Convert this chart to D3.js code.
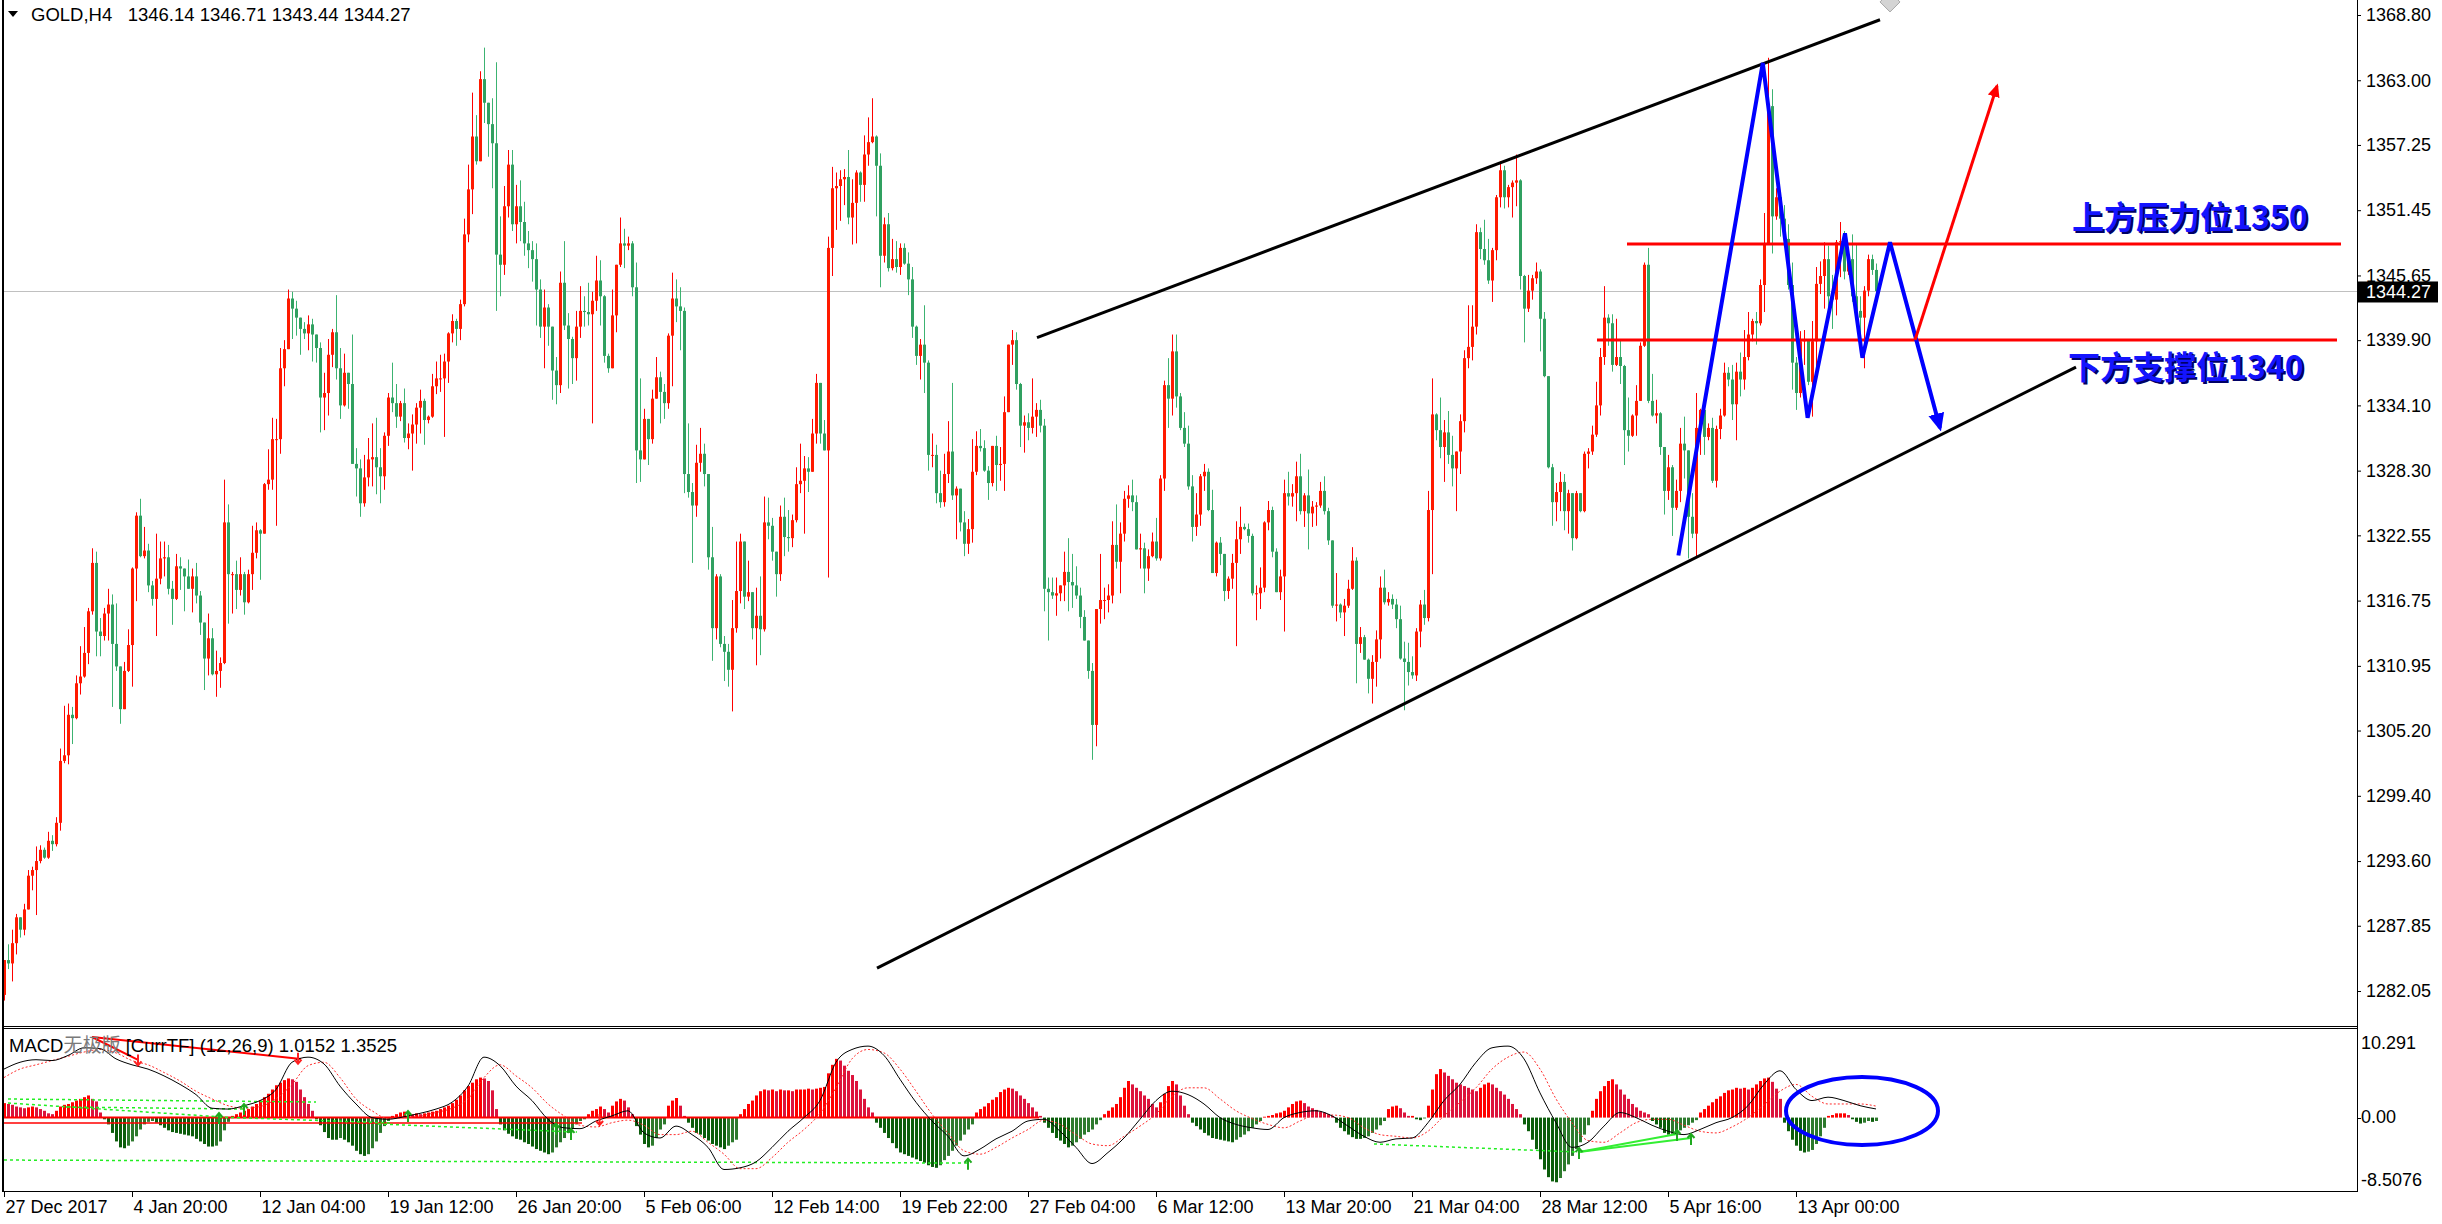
<!DOCTYPE html>
<html>
<head>
<meta charset="utf-8">
<script src="https://cdn.jsdelivr.net/npm/d3@7"></script>
<style>
  body { margin: 0; background: #fff; }
  svg { display: block; }
</style>
</head>
<body>
<svg id="chart"></svg>
<script>
// ---- GOLD H4 candles (open of each bar = previous close) ----
const firstOpen = 1281.7;
const closes = [
  1284.8,1284.5,1286.3,1288.6,1287.5,1289.3,1292.3,1292.8,1293.6,1294.6,
  1293.9,1295.4,1295.1,1297.0,1302.5,1303.0,1306.6,1306.3,1309.4,1310.0,
  1312.1,1315.8,1320.1,1314.0,1313.6,1315.6,1316.4,1312.9,1310.9,1307.1,
  1310.5,1312.8,1319.6,1324.3,1320.7,1321.2,1318.1,1316.9,1318.7,1320.5,
  1320.6,1317.8,1316.9,1319.8,1319.6,1318.9,1317.8,1318.9,1317.2,1314.8,
  1311.6,1313.4,1310.2,1310.5,1311.2,1323.7,1319.1,1319.1,1317.7,1319.1,
  1316.6,1319.1,1321.0,1323.0,1322.7,1327.1,1327.5,1331.1,1331.1,1337.4,
  1339.1,1343.6,1342.7,1341.9,1340.9,1340.5,1341.3,1340.4,1339.2,1334.8,
  1335.2,1338.6,1340.6,1337.4,1334.1,1337.0,1336.0,1328.9,1328.5,1325.4,
  1327.7,1329.3,1329.5,1328.6,1327.8,1331.4,1334.8,1334.3,1333.1,1334.3,
  1331.2,1331.6,1332.4,1333.9,1334.5,1332.8,1333.1,1335.8,1336.5,1336.5,
  1338.0,1340.5,1341.6,1340.9,1343.1,1349.3,1353.3,1358.0,1355.8,1363.1,
  1361.0,1359.1,1357.4,1347.5,1346.6,1351.8,1355.5,1350.2,1351.8,1350.4,
  1348.5,1347.9,1347.1,1344.4,1341.1,1342.8,1341.1,1337.2,1335.9,1345.0,
  1341.2,1340.0,1338.3,1341.1,1342.5,1342.4,1342.2,1343.4,1345.2,1343.8,
  1338.5,1337.4,1342.1,1346.6,1348.5,1348.3,1348.5,1344.6,1330.1,1329.3,
  1332.9,1331.1,1334.7,1336.6,1335.3,1334.3,1340.3,1343.6,1342.9,1342.5,
  1328.0,1326.4,1325.2,1329.0,1329.8,1328.0,1320.6,1314.3,1318.9,1312.9,
  1312.2,1310.6,1314.3,1317.6,1322.0,1317.1,1317.5,1314.3,1315.4,1314.2,
  1323.7,1323.4,1321.1,1319.1,1324.2,1322.4,1322.3,1323.9,1327.1,1327.4,
  1328.5,1328.2,1331.6,1336.1,1331.6,1330.1,1348.1,1353.4,1353.6,1354.2,
  1354.4,1350.8,1352.1,1354.8,1353.7,1356.4,1357.5,1358.0,1355.4,1347.4,
  1350.2,1346.3,1347.1,1346.4,1348.1,1346.7,1345.3,1341.1,1338.5,1339.5,
  1337.9,1329.7,1329.7,1326.3,1325.5,1328.0,1330.0,1326.1,1326.7,1323.7,
  1321.8,1323.1,1328.2,1330.5,1330.3,1328.3,1327.2,1330.5,1328.8,1328.9,
  1333.5,1339.5,1339.9,1336.0,1332.3,1332.6,1332.1,1333.1,1333.7,1332.3,
  1317.8,1317.5,1317.2,1317.4,1318.1,1319.3,1318.4,1318.1,1317.2,1315.3,
  1313.2,1310.5,1305.7,1316.0,1316.8,1316.8,1317.2,1321.7,1320.2,1322.7,
  1325.8,1326.1,1325.5,1321.3,1321.4,1319.6,1320.7,1322.0,1320.5,1327.6,
  1335.9,1334.7,1338.9,1334.9,1332.1,1330.7,1326.9,1323.3,1324.4,1327.8,
  1328.2,1324.8,1319.2,1321.9,1320.9,1317.6,1318.7,1320.1,1322.2,1323.3,
  1323.1,1322.5,1317.4,1317.4,1317.9,1323.7,1324.8,1321.1,1317.5,1318.9,
  1326.3,1326.0,1326.3,1327.8,1324.7,1326.1,1324.5,1325.1,1325.2,1326.5,
  1324.7,1322.1,1316.3,1316.4,1315.7,1316.3,1317.8,1320.3,1312.9,1313.5,
  1311.5,1309.8,1311.3,1313.3,1317.9,1316.6,1316.9,1316.4,1315.1,1311.6,
  1311.3,1310.4,1310.1,1314.0,1316.4,1315.2,1324.8,1333.3,1331.9,1330.4,
  1331.7,1329.7,1328.5,1330.0,1332.7,1338.3,1339.3,1341.1,1349.5,1348.0,
  1347.0,1345.2,1347.9,1352.6,1355.0,1352.6,1353.5,1353.9,1354.1,1345.6,
  1342.7,1344.3,1345.4,1346.0,1341.8,1336.7,1328.6,1325.5,1326.4,1327.3,
  1324.7,1326.3,1322.3,1326.3,1324.7,1329.8,1330.0,1331.5,1334.1,1338.4,
  1341.9,1341.4,1337.7,1338.4,1337.6,1331.9,1331.4,1333.2,1334.5,1339.4,
  1346.6,1334.5,1333.2,1333.4,1330.4,1326.5,1328.6,1325.0,1326.5,1330.7,
  1330.1,1324.2,1322.7,1332.1,1333.7,1331.3,1332.1,1327.4,1332.0,1333.2,
  1337.0,1336.4,1334.2,1337.1,1336.4,1338.4,1340.4,1341.6,1341.4,1344.8,
  1348.5,1360.7,1350.9,1352.6,1350.7,1348.9,1344.8,1337.9,1335.2,1339.8,
  1339.9,1336.2,1339.8,1344.9,1345.6,1347.1,1343.8,1343.5,1348.6,1348.7,
  1346.0,1347.1,1343.8,1342.5,1341.9,1344.3,1347.1,1346.14,1344.27
];
const highs = [
  1284.8,1286.2,1287.5,1288.9,1288.6,1289.8,1292.8,1293.1,1294.9,1295.0,
  1294.8,1296.2,1295.9,1297.5,1303.6,1307.4,1307.6,1307.3,1310.1,1312.7,
  1314.4,1316.1,1321.4,1321.1,1315.2,1316.1,1317.8,1317.3,1316.5,1310.9,
  1311.3,1314.2,1319.7,1324.6,1325.8,1323.3,1321.8,1318.5,1322.7,1322.0,
  1322.0,1321.7,1318.5,1320.9,1320.6,1319.6,1320.4,1319.6,1320.1,1317.6,
  1314.8,1315.6,1314.3,1312.3,1311.7,1327.5,1325.3,1319.3,1320.3,1320.6,
  1319.3,1319.5,1323.4,1323.7,1323.1,1327.2,1330.2,1333.0,1332.9,1339.2,
  1339.9,1344.4,1344.2,1343.4,1341.9,1341.5,1342.1,1341.8,1340.4,1339.7,
  1337.0,1340.0,1340.9,1343.9,1339.2,1338.7,1337.0,1340.4,1330.3,1329.3,
  1329.7,1331.2,1332.5,1333.0,1330.3,1331.7,1335.2,1337.9,1336.0,1334.5,
  1335.6,1332.5,1333.3,1334.3,1335.5,1334.7,1333.2,1336.9,1338.0,1338.6,
  1338.7,1340.6,1342.2,1341.8,1343.5,1350.7,1355.5,1361.9,1359.9,1363.8,
  1365.9,1361.0,1361.4,1364.6,1350.9,1353.6,1356.8,1356.8,1353.7,1354.1,
  1352.2,1349.6,1348.7,1348.5,1345.3,1344.4,1343.1,1341.1,1338.4,1346.0,
  1348.7,1342.3,1340.2,1342.5,1344.7,1343.8,1345.0,1344.2,1347.4,1347.0,
  1343.9,1338.7,1344.4,1346.6,1350.8,1349.8,1349.1,1348.7,1346.8,1336.5,
  1333.8,1332.8,1335.5,1338.4,1337.1,1336.0,1340.5,1345.9,1345.3,1344.6,
  1342.8,1332.5,1327.2,1330.6,1332.1,1330.7,1328.0,1323.3,1319.1,1319.1,
  1313.6,1312.9,1316.8,1322.0,1322.7,1322.0,1320.3,1317.4,1317.9,1318.9,
  1326.0,1325.9,1324.1,1321.1,1325.2,1325.9,1324.8,1324.4,1328.6,1330.7,
  1329.6,1329.5,1332.9,1336.9,1336.1,1332.8,1349.1,1355.3,1354.8,1355.0,
  1355.1,1356.8,1354.2,1355.0,1354.9,1358.1,1359.7,1361.4,1358.1,1356.5,
  1350.8,1351.2,1348.9,1348.7,1348.5,1348.5,1347.7,1346.4,1341.2,1340.0,
  1343.0,1338.1,1331.6,1330.6,1328.3,1329.8,1332.7,1336.1,1326.9,1326.7,
  1324.7,1324.0,1331.1,1331.8,1332.0,1331.0,1328.7,1330.5,1331.4,1330.4,
  1334.9,1339.5,1340.8,1340.6,1336.1,1333.2,1333.4,1336.5,1334.3,1334.6,
  1332.9,1318.8,1318.8,1318.8,1318.1,1321.1,1322.3,1320.9,1319.8,1317.9,
  1315.9,1313.2,1311.2,1316.0,1320.9,1317.9,1318.2,1323.8,1325.3,1323.7,
  1326.5,1327.0,1327.5,1326.1,1322.7,1321.9,1321.3,1322.8,1324.1,1327.9,
  1336.3,1338.3,1340.4,1340.4,1335.2,1333.5,1332.3,1327.9,1326.3,1328.0,
  1328.9,1328.5,1326.6,1322.0,1322.4,1320.9,1318.9,1320.9,1323.8,1325.1,
  1323.6,1323.6,1322.7,1318.1,1319.7,1323.8,1325.6,1325.1,1321.4,1319.5,
  1327.5,1328.2,1327.1,1329.1,1329.8,1326.3,1328.4,1325.6,1325.5,1327.3,
  1327.8,1325.0,1322.1,1319.2,1316.5,1316.9,1318.6,1321.5,1320.6,1314.4,
  1313.7,1311.6,1311.9,1314.1,1318.9,1319.5,1317.5,1317.3,1316.9,1316.3,
  1313.1,1313.0,1311.8,1314.3,1316.8,1317.7,1326.5,1336.5,1333.4,1334.8,
  1332.8,1333.6,1331.4,1330.0,1333.3,1339.0,1343.0,1343.0,1350.2,1349.9,
  1350.6,1348.9,1348.1,1352.8,1355.8,1355.4,1353.7,1354.1,1356.4,1354.2,
  1345.7,1345.7,1345.7,1346.8,1346.2,1342.4,1336.7,1328.9,1327.2,1328.2,
  1328.0,1326.6,1325.8,1326.5,1326.3,1330.0,1330.3,1332.3,1336.2,1339.2,
  1344.7,1342.2,1342.2,1341.8,1339.9,1337.7,1334.8,1333.3,1335.9,1339.7,
  1346.8,1348.1,1336.9,1334.6,1333.5,1330.4,1329.7,1328.8,1327.5,1332.1,
  1333.1,1330.1,1326.3,1335.2,1333.8,1333.7,1332.5,1333.0,1332.3,1333.8,
  1337.9,1337.5,1337.7,1337.9,1338.8,1340.8,1342.4,1341.8,1342.4,1345.3,
  1351.2,1365.0,1362.2,1353.4,1352.7,1351.9,1350.2,1346.8,1338.4,1340.7,
  1340.8,1339.9,1341.6,1346.4,1346.9,1348.6,1348.3,1345.7,1348.8,1350.4,
  1349.6,1348.1,1349.3,1348.4,1343.8,1344.7,1347.5,1347.5,1346.71
];
const lows = [
  1281.2,1284.0,1282.9,1285.3,1286.8,1287.0,1289.3,1291.0,1288.8,1293.4,
  1293.8,1293.8,1294.5,1294.9,1296.3,1302.3,1302.2,1304.0,1306.2,1308.4,
  1309.9,1311.1,1315.5,1311.8,1311.8,1313.2,1313.2,1307.3,1310.5,1305.8,
  1307.1,1310.4,1309.1,1316.7,1320.6,1320.5,1317.5,1316.3,1313.6,1318.2,
  1318.9,1317.3,1314.6,1316.8,1317.7,1315.8,1317.8,1315.7,1316.5,1313.7,
  1308.8,1310.1,1310.1,1308.2,1309.0,1311.1,1314.7,1315.6,1316.0,1317.2,
  1315.5,1316.5,1317.7,1320.5,1318.6,1322.7,1326.6,1326.6,1323.4,1329.8,
  1335.8,1339.1,1340.0,1340.3,1338.6,1340.0,1339.0,1338.0,1337.9,1331.7,
  1331.9,1333.2,1337.5,1336.4,1332.9,1334.0,1333.8,1328.9,1326.0,1324.2,
  1325.1,1326.9,1326.9,1326.2,1325.4,1326.6,1330.5,1333.5,1332.1,1332.7,
  1330.8,1330.2,1328.3,1330.7,1331.6,1330.6,1332.5,1333.0,1335.1,1335.3,
  1331.3,1336.1,1339.7,1339.4,1339.9,1342.9,1348.6,1351.1,1355.5,1355.8,
  1359.2,1356.2,1353.4,1342.5,1343.8,1345.7,1350.8,1349.6,1348.5,1348.7,
  1347.4,1346.3,1345.1,1341.2,1340.1,1337.4,1339.4,1334.6,1334.2,1335.2,
  1340.8,1335.6,1336.0,1336.3,1340.1,1341.1,1341.2,1332.5,1342.5,1341.2,
  1337.9,1337.0,1337.4,1340.6,1346.4,1346.3,1347.9,1343.8,1327.2,1327.3,
  1329.3,1328.8,1330.7,1334.7,1332.5,1332.9,1333.8,1335.8,1341.5,1339.0,
  1326.3,1325.9,1320.1,1324.2,1328.2,1326.9,1319.5,1311.4,1313.3,1312.6,
  1309.6,1309.1,1306.9,1313.9,1316.5,1316.0,1316.7,1313.3,1311.0,1311.9,
  1314.0,1322.2,1320.3,1317.1,1318.5,1320.7,1321.1,1321.5,1323.7,1326.3,
  1322.7,1326.4,1328.2,1330.7,1330.7,1330.1,1318.8,1345.6,1349.7,1350.5,
  1351.9,1350.2,1348.4,1348.5,1352.2,1352.2,1355.4,1357.4,1350.9,1344.6,
  1346.8,1346.0,1346.1,1345.9,1345.7,1346.6,1343.9,1340.1,1337.7,1336.4,
  1335.2,1328.3,1328.6,1325.4,1325.0,1325.1,1327.2,1325.7,1322.2,1322.9,
  1320.7,1320.9,1321.9,1327.9,1330.0,1328.2,1325.7,1326.9,1326.5,1327.4,
  1326.5,1333.5,1337.7,1335.5,1330.4,1329.9,1331.0,1331.6,1331.3,1331.7,
  1315.8,1313.2,1316.9,1315.4,1316.7,1316.7,1315.8,1316.1,1316.9,1314.3,
  1313.2,1309.8,1302.6,1303.8,1314.7,1315.1,1315.7,1316.5,1319.6,1317.4,
  1322.0,1325.0,1324.7,1321.3,1319.6,1317.4,1318.5,1320.6,1320.3,1320.3,
  1326.5,1332.1,1333.2,1333.9,1331.9,1330.4,1326.6,1322.0,1322.5,1323.4,
  1326.5,1324.7,1319.2,1318.9,1319.9,1316.7,1316.9,1317.8,1312.7,1320.9,
  1323.0,1321.9,1317.2,1315.0,1316.0,1317.5,1323.0,1320.6,1317.5,1316.8,
  1314.0,1325.2,1325.1,1323.8,1324.4,1323.3,1321.3,1323.3,1323.4,1325.0,
  1324.4,1321.7,1316.1,1314.9,1315.2,1313.6,1316.1,1317.7,1309.4,1312.1,
  1311.5,1308.5,1307.6,1309.1,1311.6,1316.4,1316.3,1316.0,1314.3,1311.5,
  1307.0,1309.2,1309.8,1309.6,1312.6,1314.6,1314.9,1319.1,1331.0,1329.4,
  1327.3,1328.9,1326.9,1324.7,1328.0,1331.7,1337.4,1338.1,1340.4,1347.1,
  1346.6,1344.9,1343.3,1347.0,1351.7,1351.6,1351.7,1350.8,1351.8,1344.4,
  1339.7,1342.4,1343.5,1344.9,1338.9,1336.6,1328.5,1323.4,1323.8,1324.7,
  1323.0,1322.7,1321.2,1322.2,1324.6,1324.6,1328.5,1329.7,1331.3,1333.2,
  1337.7,1339.4,1337.1,1337.6,1336.0,1328.8,1330.0,1331.3,1331.4,1334.5,
  1339.3,1334.3,1333.1,1332.5,1329.7,1324.4,1325.7,1322.5,1324.8,1325.5,
  1327.6,1320.5,1322.3,1320.7,1329.7,1329.7,1331.0,1327.2,1326.8,1331.1,
  1333.1,1335.8,1332.8,1331.0,1334.9,1335.5,1338.1,1339.8,1339.5,1341.2,
  1342.4,1348.4,1347.6,1350.6,1349.1,1348.8,1344.4,1335.5,1333.7,1334.8,
  1337.7,1335.9,1333.1,1336.9,1344.0,1342.7,1342.4,1340.9,1342.1,1345.5,
  1345.3,1345.7,1343.3,1341.5,1339.8,1337.4,1343.8,1345.7,1343.44
];

const priceTicks = [1368.80,1363.00,1357.25,1351.45,1345.65,1339.90,1334.10,1328.30,
  1322.55,1316.75,1310.95,1305.20,1299.40,1293.60,1287.85,1282.05];
const timeTickBars = [0,32,64,96,128,160,192,224,256,288,320,352,384,416,448];
const timeTickLabels = ["27 Dec 2017","4 Jan 20:00","12 Jan 04:00","19 Jan 12:00","26 Jan 20:00",
  "5 Feb 06:00","12 Feb 14:00","19 Feb 22:00","27 Feb 04:00","6 Mar 12:00","13 Mar 20:00",
  "21 Mar 04:00","28 Mar 12:00","5 Apr 16:00","13 Apr 00:00"];

// ---- MACD sub window ----
const macdMax = 10.291, macdMin = -8.5076;
const macdHist = [
  1.7,1.6,1.5,1.3,1.2,1.1,1.2,1.3,1.2,1.0,0.8,0.5,0.4,
  0.8,1.3,1.5,1.6,1.8,2.0,2.2,2.4,2.6,2.2,1.9,0.6,
  -0.2,-0.8,-1.8,-2.8,-3.5,-3.6,-3.3,-2.8,-2.2,-1.4,-0.8,-0.5,-0.4,-0.6,-0.9,-1.2,-1.5,-1.7,-1.8,
  -1.9,-2.0,-2.1,-2.2,-2.5,-2.8,-3.1,-3.4,-3.4,-3.3,-2.8,-1.5,-0.5,
  0.2,0.4,0.6,0.8,1.0,1.3,1.6,2.0,2.4,2.8,3.3,3.8,4.1,4.4,4.6,4.5,4.2,3.3,2.4,1.6,0.8,
  -0.2,-0.9,-1.7,-2.4,-2.6,-2.6,-2.4,-2.6,-2.9,-3.3,-3.9,-4.3,-4.5,-4.3,-3.6,-2.8,-1.8,-1.0,-0.4,
  0.2,0.4,0.6,0.7,0.5,0.4,0.5,0.4,0.5,0.6,0.7,
  0.8,1.0,1.2,1.4,1.7,2.1,2.6,3.2,3.7,4.1,4.5,4.7,4.6,4.3,3.2,1.0,
  -0.8,-1.5,-1.9,-2.2,-2.5,-2.6,-2.9,-3.1,-3.4,-3.7,-3.9,-4.1,-4.3,-4.1,-3.5,-2.9,-2.4,-1.8,-1.3,-0.8,-0.4,-0.2,
  0.4,0.8,1.0,1.3,1.0,0.6,1.4,1.9,2.2,2.0,1.2,0.4,
  -1.0,-2.0,-3.1,-3.5,-3.3,-2.4,-1.4,-0.8,
  1.4,2.0,2.3,1.4,0.2,
  -0.6,-1.2,-1.8,-2.0,-2.4,-2.7,-3.1,-3.3,-3.5,-3.7,-3.3,-2.9,-2.6,
  0.4,1.0,1.6,2.0,2.6,3.1,3.3,3.2,3.3,3.1,3.3,3.2,3.2,3.1,3.3,3.3,
  3.3,3.4,3.3,3.4,3.5,3.6,5.2,6.2,6.9,6.7,6.1,5.5,5.0,4.3,3.3,2.2,1.2,0.6,
  -0.6,-1.2,-1.8,-2.4,-3.0,-3.6,-4.1,-4.3,-4.5,-4.7,-4.9,-5.1,-5.3,-5.6,-5.8,-5.9,-5.6,-5.0,-4.5,-3.9,-3.3,-2.7,-2.0,-1.4,-0.8,
  0.6,1.0,1.3,1.7,2.1,2.4,3.0,3.3,3.5,3.4,3.1,2.6,2.2,1.7,1.2,0.7,0.2,
  -0.6,-1.2,-1.8,-2.4,-2.7,-3.1,-3.5,-3.3,-2.9,-2.5,-2.0,-1.7,-1.4,-0.8,-0.3,
  0.4,0.8,1.2,1.6,2.4,3.5,4.3,3.9,3.5,3.1,2.6,2.2,1.6,1.2,1.8,2.8,3.7,4.3,3.9,2.6,1.4,0.4,
  -0.6,-1.0,-1.4,-1.8,-2.1,-2.4,-2.5,-2.6,-2.7,-2.8,-2.9,-2.6,-2.3,-2.0,-1.6,-1.2,-0.8,-0.4,
  0.1,0.2,0.3,0.5,0.6,0.8,1.2,1.6,1.9,2.0,1.7,1.3,1.1,0.9,0.7,0.6,0.4,0.2,
  -0.6,-1.2,-1.6,-2.0,-2.3,-2.5,-2.5,-2.4,-2.2,-1.8,-1.4,-0.9,-0.4,
  1.0,1.3,1.4,1.1,0.6,0.2,0.2,
  -0.2,-0.3,-0.1,
  1.4,3.3,5.1,5.7,5.3,4.9,4.5,4.1,3.9,3.7,3.5,3.3,3.1,3.5,3.9,4.1,3.9,3.5,3.1,2.7,2.2,1.6,1.0,0.4,
  -0.8,-1.6,-2.6,-3.7,-4.9,-6.1,-7.0,-7.5,-7.6,-7.1,-6.3,-5.5,-4.5,-3.7,-2.9,-2.0,-0.9,
  0.8,2.2,3.1,3.7,4.3,4.5,3.9,3.3,2.7,2.2,1.6,1.2,0.8,0.6,0.4,
  -0.4,-0.8,-1.2,-1.8,-2.0,-1.9,-1.8,-1.5,-1.2,-0.9,-0.6,-0.3,
  0.6,1.0,1.4,1.8,2.2,2.5,2.9,3.2,3.3,3.5,3.4,3.5,3.3,3.5,3.9,4.3,4.6,4.7,4.2,3.4,2.2,
  -0.6,-1.6,-2.6,-3.3,-3.9,-4.1,-4.0,-3.8,-3.1,-2.2,-1.2,
  0.2,0.3,0.5,0.5,0.5,0.3,
  -0.2,-0.5,-0.7,-0.6,-0.4,-0.5,-0.4
];
const lineStep = 4; // main / signal values read every 4 bars
const macdMain = [
  5.7,6.5,6.8,6.7,7.3,8.2,8.1,6.9,6.2,5.7,
  4.9,3.9,2.7,1.1,1.0,1.4,2.0,3.3,6.5,7.1,
  6.3,3.7,1.6,0.0,-0.2,0.1,0.5,1.0,1.8,3.7,
  7.1,6.1,3.7,2.0,-0.2,-1.2,-1.3,-0.4,0.2,0.8,
  -1.8,-2.4,-1.0,-2.0,-3.5,-6.1,-5.9,-5.2,-3.5,-1.6,
  0.0,2.0,6.5,8.0,8.4,7.3,4.5,1.8,-0.4,-2.2,
  -4.5,-3.7,-2.5,-1.6,-0.4,-0.2,-1.6,-3.5,-5.4,-4.1,
  -2.4,-0.2,2.0,3.1,2.7,1.6,0.0,-0.8,-1.2,-1.4,
  0.0,0.6,0.8,0.2,-1.0,-2.2,-2.9,-2.5,-2.4,-0.6,
  2.0,3.9,6.5,8.2,8.4,6.9,2.9,-0.6,-3.5,-2.9,
  -1.0,0.6,0.0,-0.9,-1.6,-2.0,-1.4,-0.6,0.0,1.4,
  3.9,5.5,3.3,2.0,2.4,2.0,1.4,1.0152
];
const macdSignal = [
  4.7,5.7,6.2,6.7,7.2,7.7,8.0,7.6,6.7,6.2,
  5.3,4.3,3.1,2.2,1.4,1.1,1.3,2.2,3.9,6.1,
  6.5,4.7,2.2,0.8,-0.1,0.0,0.2,0.6,1.1,2.2,
  4.7,6.2,4.9,3.5,1.6,0.2,-0.9,-1.1,-0.6,-0.3,
  -0.9,-2.0,-2.0,-1.6,-2.9,-4.3,-6.0,-6.0,-4.7,-2.9,
  -1.4,0.5,3.5,6.9,8.0,7.6,5.7,3.1,0.4,-1.8,
  -3.9,-4.3,-3.5,-2.4,-1.4,-0.3,-0.8,-2.0,-3.1,-3.3,
  -2.2,-1.0,0.4,2.5,3.5,3.5,2.2,0.8,-0.1,-0.8,
  -1.2,-0.4,0.3,0.3,0.0,-1.2,-2.0,-2.2,-2.4,-1.6,
  0.2,1.8,3.5,5.7,7.1,7.7,5.7,2.2,-0.6,-2.7,
  -2.9,-1.8,-0.6,-0.2,-0.2,-0.9,-1.6,-1.8,-1.1,0.0,
  1.5,3.1,3.9,2.5,1.6,1.6,1.6,1.3525
];

// ---- drawn objects, as [bar, price] or [bar, macd value] ----
const channelUpper = [[258.25, 1340.13], [469, 1368.38]];
const channelLower = [[218.25, 1284.09], [518, 1337.51]];
const levels = [
  {price: 1348.44, from: 405.75, to: 584.25},
  {price: 1339.91, from: 398.25, to: 583.25}
];
const bluePath = [[418.6,1320.76],[439.7,1364.54],[450.9,1333.0],[460.25,1349.39],
  [464.6,1338.33],[471.5,1348.6],[484,1332.1]];
const redArrow = [[477.75,1339.91],[498.25,1362.49]];
const notes = [
  {text: "上方压力位1350", bar: 517, price: 1349.78},
  {text: "下方支撑位1340", bar: 516, price: 1336.44}
];
const anchorMark = [471.5, 1369.96];
const macdRedLines = [[[22,9.47],[74.25,6.88]], [[22,9.47],[33.5,6.77]]];
const macdGreenDotted = [
  [[1,2.18],[78,1.83]], [[1,1.71],[55,0.06]], [[15.5,1.24],[60.25,1.0]],
  [[53.75,0.06],[97.25,-0.64]], [[93.5,-0.75],[143.25,-1.7]],
  [[0,-4.99],[241,-5.34]], [[342.5,-3.1],[393.75,-4.05]]
];
const macdGreenSolid = [[[393.75,-4.05],[418.25,-1.93]], [[393.75,-4.05],[421.75,-2.4]]];
const greenArrows = [[53.75,0.06],[60,1.12],[101,0.3],[138,-1.2],[141.75,-1.8],
  [241,-5.3],[393.75,-4.05],[418.25,-1.93],[421.75,-2.4]];
const redArrows = [[33.5,6.6],[73.5,6.8],[148.9,-0.4]];
const circleBox = {bars: [445.5, 483.5], vals: [-3.22, 4.77]};

const FONT = "'Liberation Sans', Arial, sans-serif";
const W = 2442, H = 1224;

const svg = d3.select("#chart").attr("width", W).attr("height", H);
svg.append("rect").attr("width", W).attr("height", H).attr("fill", "#fff");

const x = d3.scaleLinear().domain([0, 588.25]).range([4, 2357]);
const y = d3.scaleLinear().domain([1282.05, 1368.80]).range([991, 15]);
const yM = d3.scaleLinear().domain([macdMin, macdMax]).range([1190, 1030]);
const line = d3.line().x(d => x(d[0])).y(d => y(d[1]));
const lineM = d3.line().x(d => x(d[0])).y(d => yM(d[1]));

const defs = svg.append("defs");
defs.append("clipPath").attr("id", "clipMain")
  .append("rect").attr("x", 4).attr("y", 0).attr("width", 2353).attr("height", 1026);
defs.append("clipPath").attr("id", "clipMacd")
  .append("rect").attr("x", 4).attr("y", 1029).attr("width", 2353).attr("height", 162);
function arrowMarker(id, color) {
  defs.append("marker").attr("id", id)
    .attr("viewBox", "0 0 10 10").attr("refX", 8).attr("refY", 5)
    .attr("markerWidth", 4.5).attr("markerHeight", 4.5).attr("orient", "auto")
    .append("path").attr("d", "M0,0.5 L10,5 L0,9.5 Z").attr("fill", color);
}
arrowMarker("headRed", "#ff0000");
arrowMarker("headBlue", "#0000ff");

const bars = closes.map((c, i) => {
  const o = i === 0 ? firstOpen : closes[i - 1];
  return {i, o, c, h: Math.max(highs[i], o, c), l: Math.min(lows[i], o, c)};
});
const lastClose = closes[closes.length - 1];

// ---- main window ----
const main = svg.append("g").attr("clip-path", "url(#clipMain)");

main.append("line")
  .attr("x1", 4).attr("x2", 2357)
  .attr("y1", Math.round(y(lastClose)) + 0.5).attr("y2", Math.round(y(lastClose)) + 0.5)
  .attr("stroke", "#c0c0c0");

main.selectAll("line.wick")
  .data(bars)
  .enter()
  .append("line")
  .attr("class", "wick")
  .attr("x1", d => Math.round(x(d.i)) + 0.5)
  .attr("x2", d => Math.round(x(d.i)) + 0.5)
  .attr("y1", d => y(d.h))
  .attr("y2", d => y(d.l))
  .attr("stroke", d => d.c >= d.o ? "#ff0000" : "#3cb371");

main.selectAll("rect.body")
  .data(bars)
  .enter()
  .append("rect")
  .attr("class", "body")
  .attr("x", d => Math.round(x(d.i)) - 1)
  .attr("width", 3)
  .attr("y", d => y(Math.max(d.o, d.c)))
  .attr("height", d => Math.max(1, Math.abs(y(d.o) - y(d.c))))
  .attr("fill", d => d.c >= d.o ? "#ff1a00" : "#30a060");

main.selectAll("path.channel")
  .data([channelUpper, channelLower])
  .enter()
  .append("path")
  .attr("class", "channel")
  .attr("d", line)
  .attr("fill", "none")
  .attr("stroke", "#000")
  .attr("stroke-width", 3);

main.selectAll("line.level")
  .data(levels)
  .enter()
  .append("line")
  .attr("class", "level")
  .attr("x1", d => x(d.from)).attr("x2", d => x(d.to))
  .attr("y1", d => y(d.price)).attr("y2", d => y(d.price))
  .attr("stroke", "#ff0000")
  .attr("stroke-width", 3);

main.append("path")
  .attr("d", line(bluePath))
  .attr("fill", "none")
  .attr("stroke", "#0000ff")
  .attr("stroke-width", 4)
  .attr("stroke-linejoin", "miter")
  .attr("marker-end", "url(#headBlue)");

main.append("path")
  .attr("d", line(redArrow))
  .attr("fill", "none")
  .attr("stroke", "#ff0000")
  .attr("stroke-width", 3)
  .attr("marker-end", "url(#headRed)");

main.append("path")
  .attr("transform", `translate(${x(anchorMark[0])},${y(anchorMark[1])})`)
  .attr("d", "M0,-10 L10,0 L0,10 L-10,0 Z")
  .attr("fill", "#d4d4d4")
  .attr("stroke", "#a8a8a8");

notes.forEach(n => {
  [["#000066", 2], ["#1414ff", 0]].forEach(([col, off]) => {
    svg.append("text")
      .attr("x", x(n.bar) + off)
      .attr("y", y(n.price) + off)
      .attr("font-family", "'Noto Sans CJK SC', sans-serif")
      .attr("font-weight", 700)
      .attr("font-size", 32)
      .attr("fill", col)
      .text(n.text);
  });
});

// header
svg.append("path").attr("d", "M8,11 L18,11 L13,17 Z").attr("fill", "#000");
svg.append("text")
  .attr("x", 31).attr("y", 21)
  .attr("font-family", FONT).attr("font-size", 18.5)
  .style("white-space", "pre")
  .text("GOLD,H4   1346.14 1346.71 1343.44 1344.27");

// ---- MACD window ----
const sub = svg.append("g").attr("clip-path", "url(#clipMacd)");

sub.selectAll("rect.hist")
  .data(macdHist)
  .enter()
  .append("rect")
  .attr("class", "hist")
  .attr("x", (d, i) => Math.round(x(i)) - 1)
  .attr("width", 3)
  .attr("y", d => d >= 0 ? yM(d) : yM(0))
  .attr("height", d => Math.abs(yM(d) - yM(0)))
  .attr("fill", (d, i) => {
    const prev = i > 0 ? macdHist[i - 1] : d;
    if (d >= 0) return d >= prev ? "#ff0000" : "#dc143c";
    return d <= prev ? "#0b5d0b" : "#2d7a2d";
  });

sub.append("line")
  .attr("x1", x(0)).attr("x2", x(258.75))
  .attr("y1", yM(0)).attr("y2", yM(0))
  .attr("stroke", "#ff0000").attr("stroke-width", 2);
sub.append("line")
  .attr("x1", x(0)).attr("x2", x(144.5))
  .attr("y1", yM(-0.64)).attr("y2", yM(-0.64))
  .attr("stroke", "#ff0000").attr("stroke-width", 1.5);

sub.selectAll("path.gdot")
  .data(macdGreenDotted)
  .enter()
  .append("path")
  .attr("class", "gdot")
  .attr("d", lineM)
  .attr("fill", "none")
  .attr("stroke", "#22ee22")
  .attr("stroke-width", 1.5)
  .attr("stroke-dasharray", "3,3");

sub.selectAll("path.gsolid")
  .data(macdGreenSolid)
  .enter()
  .append("path")
  .attr("class", "gsolid")
  .attr("d", lineM)
  .attr("fill", "none")
  .attr("stroke", "#33ee33")
  .attr("stroke-width", 2);

sub.selectAll("path.rsolid")
  .data(macdRedLines)
  .enter()
  .append("path")
  .attr("class", "rsolid")
  .attr("d", lineM)
  .attr("fill", "none")
  .attr("stroke", "#ff0000")
  .attr("stroke-width", 2);

const mainPts = macdMain.map((v, k) => [Math.min(k * lineStep, closes.length - 1), v]);
const sigPts = macdSignal.map((v, k) => [Math.min(k * lineStep, closes.length - 1), v]);
const curveM = d3.line().x(d => x(d[0])).y(d => yM(d[1])).curve(d3.curveMonotoneX);

sub.append("path")
  .attr("d", curveM(sigPts))
  .attr("fill", "none")
  .attr("stroke", "#ff2a2a")
  .attr("stroke-width", 1)
  .attr("stroke-dasharray", "2,2");
sub.append("path")
  .attr("d", curveM(mainPts))
  .attr("fill", "none")
  .attr("stroke", "#000")
  .attr("stroke-width", 1);

sub.selectAll("path.garrow")
  .data(greenArrows)
  .enter()
  .append("path")
  .attr("class", "garrow")
  .attr("transform", d => `translate(${x(d[0])},${yM(d[1])})`)
  .attr("d", "M0,-4 L0,7 M-3.5,0 L0,-4 L3.5,0")
  .attr("fill", "none")
  .attr("stroke", "#1faa1f")
  .attr("stroke-width", 2);

sub.selectAll("path.rarrow")
  .data(redArrows)
  .enter()
  .append("path")
  .attr("class", "rarrow")
  .attr("transform", d => `translate(${x(d[0])},${yM(d[1])})`)
  .attr("d", "M0,-7 L0,4 M-3.5,0 L0,4 L3.5,0")
  .attr("fill", "none")
  .attr("stroke", "#ff2020")
  .attr("stroke-width", 2);

sub.append("ellipse")
  .attr("cx", (x(circleBox.bars[0]) + x(circleBox.bars[1])) / 2)
  .attr("cy", (yM(circleBox.vals[0]) + yM(circleBox.vals[1])) / 2)
  .attr("rx", (x(circleBox.bars[1]) - x(circleBox.bars[0])) / 2)
  .attr("ry", (yM(circleBox.vals[0]) - yM(circleBox.vals[1])) / 2)
  .attr("fill", "none")
  .attr("stroke", "#0000ff")
  .attr("stroke-width", 4);

const title = svg.append("text")
  .attr("x", 9).attr("y", 1052)
  .attr("font-family", FONT).attr("font-size", 18.5)
  .style("white-space", "pre");
title.append("tspan").text("MACD");
title.append("tspan").attr("fill", "#7a7a7a")
  .attr("font-family", "'Noto Sans CJK SC', sans-serif").attr("font-size", 19).text("无极版");
title.append("tspan").text(` [CurrTF] (12,26,9) ${macdMain[macdMain.length - 1].toFixed(4)} ${macdSignal[macdSignal.length - 1].toFixed(4)}`);

// ---- frames and axes ----
const frame = svg.append("g").attr("stroke", "#000").attr("fill", "none");
frame.append("line").attr("x1", 3).attr("x2", 3).attr("y1", 0).attr("y2", 1192).attr("stroke-width", 2);
frame.append("line").attr("x1", 2357.5).attr("x2", 2357.5).attr("y1", 0).attr("y2", 1192);
frame.append("line").attr("x1", 3).attr("x2", 2357.5).attr("y1", 1026.5).attr("y2", 1026.5);
frame.append("line").attr("x1", 3).attr("x2", 2357.5).attr("y1", 1028.5).attr("y2", 1028.5);
frame.append("line").attr("x1", 3).attr("x2", 2357.5).attr("y1", 1191.5).attr("y2", 1191.5);

const gy = svg.append("g")
  .attr("transform", "translate(2357,0)")
  .call(d3.axisRight(y).tickValues(priceTicks).tickSize(4).tickPadding(5).tickFormat(d3.format(".2f")));
gy.select(".domain").remove();
gy.attr("font-size", 18).attr("font-family", FONT);

svg.append("rect")
  .attr("x", 2358).attr("y", y(lastClose) - 9.5)
  .attr("width", 80).attr("height", 21)
  .attr("fill", "#000");
svg.append("text")
  .attr("x", 2366).attr("y", y(lastClose) + 1).attr("dy", "0.32em")
  .attr("font-family", FONT).attr("font-size", 18).attr("fill", "#fff")
  .text(lastClose.toFixed(2));

const macdLabels = [
  {t: macdMax.toString(), y: yM(macdMax) + 13},
  {t: "0.00", y: yM(0)},
  {t: macdMin.toString(), y: yM(macdMin) - 10}
];
svg.selectAll("text.mlab")
  .data(macdLabels)
  .enter()
  .append("text")
  .attr("class", "mlab")
  .attr("x", 2361).attr("y", d => d.y).attr("dy", "0.32em")
  .attr("font-family", FONT).attr("font-size", 18)
  .text(d => d.t);
svg.append("line").attr("x1", 2357).attr("x2", 2361)
  .attr("y1", Math.round(yM(0)) + 0.5).attr("y2", Math.round(yM(0)) + 0.5).attr("stroke", "#000");

const gx = svg.append("g")
  .attr("transform", "translate(0,1191)")
  .call(d3.axisBottom(x).tickValues(timeTickBars).tickSize(6).tickFormat((d, i) => timeTickLabels[i]));
gx.select(".domain").remove();
gx.attr("font-size", 18).attr("font-family", FONT);
gx.selectAll("text").attr("text-anchor", "start").attr("x", 1).attr("y", 9);
</script>
</body>
</html>
